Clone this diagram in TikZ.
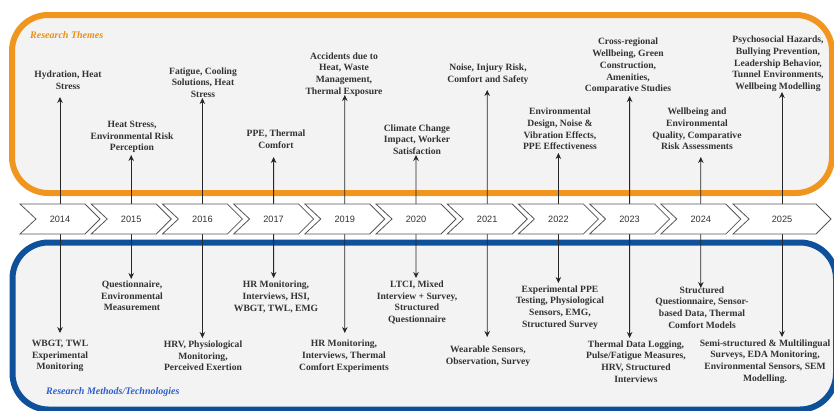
\documentclass[tikz,border=0pt]{standalone}
\usepackage{fontspec}
\setmainfont{Liberation Serif}
\setsansfont{Liberation Sans}
\usetikzlibrary{arrows.meta}
\pgfdeclarelayer{panels}
\pgfdeclarelayer{links}
\pgfsetlayers{panels,links,main}

\definecolor{themeorange}{HTML}{F0961E}
\definecolor{themetext}{HTML}{E8901A}
\definecolor{methodblue}{HTML}{0F509B}
\definecolor{methodtext}{HTML}{2F5FCC}
\definecolor{panelgray}{HTML}{F3F3F3}
\definecolor{labeltext}{HTML}{333333}
\definecolor{chevronline}{HTML}{555555}

\tikzset{
  panel/.style={line width=6pt, fill=panelgray, rounded corners=36pt},
  chevron/.style={draw=chevronline, fill=white, line width=0.8pt, line join=miter},
  yearlabel/.style={font=\sffamily\fontsize{9.2}{11}\selectfont, text=black!80, inner sep=1pt},
  topic/.style={font=\bfseries\fontsize{9.6}{11.7}\selectfont, text=labeltext, align=center, inner sep=0pt},
  link/.style={draw=black!85, line width=0.8pt, -{Stealth[length=6pt,width=5.5pt]}},
  heading/.style={font=\bfseries\itshape\fontsize{10}{11}\selectfont, anchor=west, inner sep=0pt}
}

\begin{document}
\begin{tikzpicture}[x=1pt,y=-1pt]
\useasboundingbox (0,0) rectangle (834,410);

% Two rounded panels: themes above, methods below
\begin{pgfonlayer}{panels}
  \draw[panel, draw=themeorange] (12,15) rectangle (832,193);
  \draw[panel, draw=methodblue] (12.5,242.5) rectangle (836,409.5);
\end{pgfonlayer}

\node[heading, text=themetext] (themehead) at (30,35) {Research Themes};
\node[heading, text=methodtext] (methodhead) at (46,392) {Research Methods/Technologies};

% Timeline chevrons
\foreach \yr [count=\i from 0] in {2014,2015,2016,2017,2019,2020,2021,2022,2023,2024} {
  \pgfmathsetmacro{\xa}{20+71.2*\i}
  \draw[chevron] (\xa,204) -- ++(65,0) -- ++(15,15) -- ++(-15,15) -- ++(-65,0) -- ++(16,-15) -- cycle;
  \node[yearlabel] (y\yr) at (\xa+40,219) {\yr};
}
\draw[chevron] (733,204) -- (816,204) -- (831,219) -- (816,234) -- (733,234) -- (749,219) -- cycle;
\node[yearlabel] (y2025) at (782,219) {2025};

% Research themes
\node[topic] (t2014) at (68,80) {Hydration, Heat\\Stress};
\node[topic] (t2015) at (132,137) {Heat Stress,\\Environmental Risk\\Perception};
\node[topic] (t2016) at (203,82.5) {Fatigue, Cooling\\Solutions, Heat\\Stress};
\node[topic] (t2017) at (276,139) {PPE, Thermal\\Comfort};
\node[topic] (t2019) at (344,74.5) {Accidents due to\\Heat, Waste\\Management,\\Thermal Exposure};
\node[topic] (t2020) at (417,139.5) {Climate Change\\Impact, Worker\\Satisfaction};
\node[topic] (t2021) at (488,74.5) {Noise, Injury Risk,\\Comfort and Safety};
\node[topic] (t2022) at (560,129) {Environmental\\Design, Noise \&\\Vibration Effects,\\PPE Effectiveness};
\node[topic] (t2023) at (628,66) {Cross-regional\\Wellbeing, Green\\Construction,\\Amenities,\\Comparative Studies};
\node[topic] (t2024) at (697,129) {Wellbeing and\\Environmental\\Quality, Comparative\\Risk Assessments};
\node[topic] (t2025) at (778,64) {Psychosocial Hazards,\\Bullying Prevention,\\Leadership Behavior,\\Tunnel Environments,\\Wellbeing Modelling};

% Research methods / technologies
\node[topic] (m2014) at (60,356) {WBGT, TWL\\Experimental\\Monitoring};
\node[topic] (m2015) at (132,296) {Questionnaire,\\Environmental\\Measurement};
\node[topic] (m2016) at (203,356) {HRV, Physiological\\Monitoring,\\Perceived Exertion};
\node[topic] (m2017) at (276,297) {HR Monitoring,\\Interviews, HSI,\\WBGT, TWL, EMG};
\node[topic] (m2019) at (344,356) {HR Monitoring,\\Interviews, Thermal\\Comfort Experiments};
\node[topic] (m2020) at (417,302.5) {LTCI, Mixed\\Interview + Survey,\\Structured\\Questionnaire};
\node[topic] (m2021) at (488,356) {Wearable Sensors,\\Observation, Survey};
\node[topic] (m2022) at (560,307.5) {Experimental PPE\\Testing, Physiological\\Sensors, EMG,\\Structured Survey};
\node[topic] (m2023) at (636,361.5) {Thermal Data Logging,\\Pulse/Fatigue Measures,\\HRV, Structured\\Interviews};
\node[topic] (m2024) at (702,307.5) {Structured\\Questionnaire, Sensor-\\based Data, Thermal\\Comfort Models};
\node[topic] (m2025) at (765,361.5) {Semi-structured \& Multilingual\\Surveys, EDA Monitoring,\\Environmental Sensors, SEM\\Modelling.};

% Arrow tips just beside each label
\foreach \yr/\xx/\up/\dn in {2014/60/97/333, 2015/131.2/155/279, 2016/202.4/98/338,
    2017/273.6/157/278, 2019/344.8/95/333, 2020/416/155/278, 2021/487.2/90/337,
    2022/558.4/153/283, 2023/629.6/96/338, 2024/700.8/157/288, 2025/782/92/337} {
  \coordinate (up\yr) at (\xx,\up);
  \coordinate (dn\yr) at (\xx,\dn);
}

% Connectors from each year to its theme and method
\begin{pgfonlayer}{links}
  \foreach \yr in {2014,2015,2016,2017,2019,2020,2021,2022,2023,2024,2025} {
    \draw[link] (y\yr.center) -- (up\yr);
    \draw[link] (y\yr.center) -- (dn\yr);
  }
\end{pgfonlayer}
\end{tikzpicture}
\end{document}
